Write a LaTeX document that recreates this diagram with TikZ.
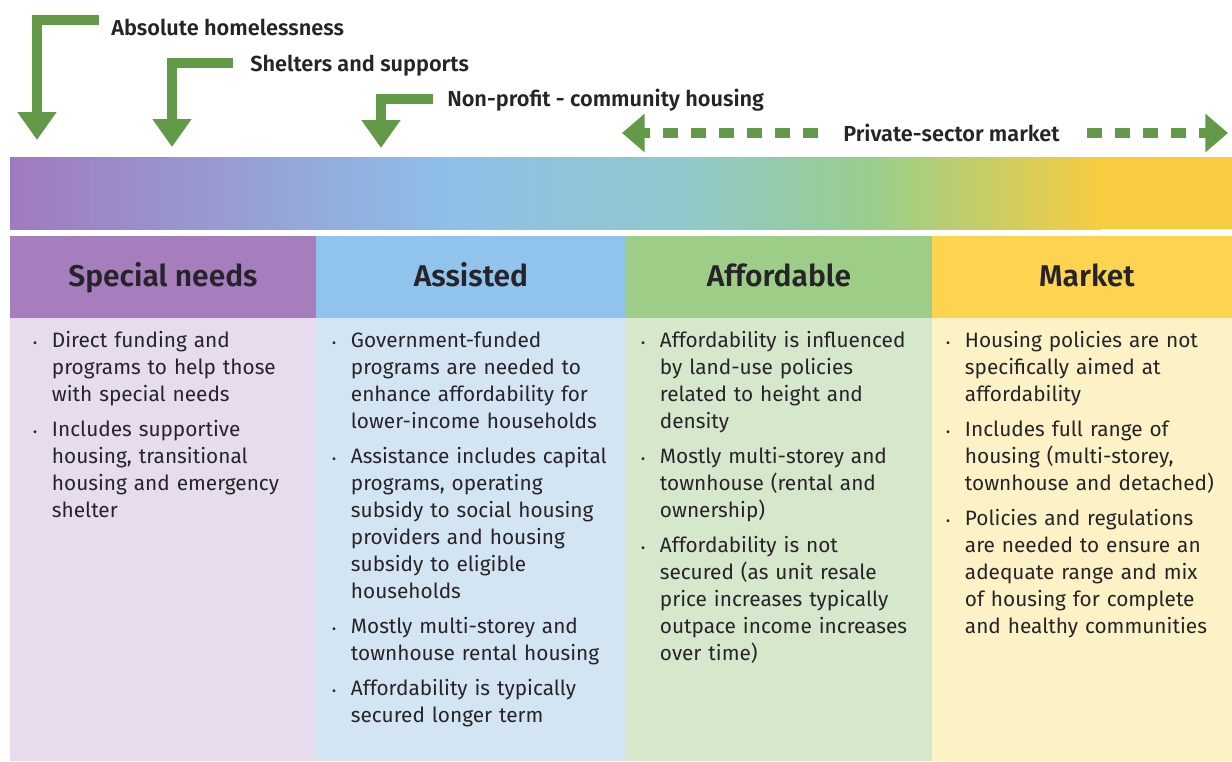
\documentclass[tikz,border=0pt]{standalone}
\usepackage{fontspec}
\setmainfont{Fira Sans}[BoldFont={* SemiBold}]
\usepackage{enumitem}
\usetikzlibrary{arrows.meta,positioning}

\definecolor{arrowgreen}{RGB}{98,154,72}
\definecolor{textgray}{RGB}{38,36,40}
\definecolor{needsHead}{RGB}{166,126,190}
\definecolor{needsBody}{RGB}{231,219,238}
\definecolor{assistHead}{RGB}{145,196,236}
\definecolor{assistBody}{RGB}{211,229,243}
\definecolor{affordHead}{RGB}{158,205,136}
\definecolor{affordBody}{RGB}{214,232,204}
\definecolor{marketHead}{RGB}{253,212,79}
\definecolor{marketBody}{RGB}{253,242,198}
\definecolor{barPurple}{RGB}{160,122,190}
\definecolor{barLilac}{RGB}{150,160,212}
\definecolor{barBlue}{RGB}{142,192,232}
\definecolor{barTeal}{RGB}{145,200,205}
\definecolor{barGreen}{RGB}{152,206,140}
\definecolor{barYellow}{RGB}{247,204,64}

\setlist[itemize]{label={\scalebox{0.6}{\textbullet}},leftmargin=14pt,labelsep=11pt,
  itemsep=6pt,parsep=0pt,topsep=0pt,partopsep=0pt}

\tikzset{
  stepLabel/.style={font=\bfseries\fontsize{16.3}{18}\selectfont,text=textgray,inner sep=0pt,anchor=base west},
  elbowArrow/.style={draw=arrowgreen,line width=7.5pt,line join=miter,-{Triangle[length=21pt,width=28pt]}},
  marketArrow/.style={draw=arrowgreen,line width=8pt,dash pattern=on 11.25pt off 9.75pt,-{Triangle[length=17pt,width=28pt]}},
  colHead/.style={font=\bfseries\fontsize{22.5}{26}\selectfont,text=textgray,inner sep=0pt,anchor=base},
  colText/.style={text width=220pt,inner sep=0pt,anchor=north west,align=left,
    font=\fontsize{15.6}{20.25}\selectfont,text=textgray},
}

\begin{document}
\begin{tikzpicture}[x=0.75pt,y=-0.75pt]
\useasboundingbox (0,0) rectangle (1232,761);

% top labels and arrows
\node[stepLabel] (homeless) at (111,35) {Absolute homelessness};
\coordinate (homelessStart) at (99,20);
\coordinate (homelessTip) at (37,140);
\draw[elbowArrow] (homelessStart) -| (homelessTip);

\node[stepLabel] (shelters) at (250,71) {Shelters and supports};
\coordinate (sheltersStart) at (233,63);
\coordinate (sheltersTip) at (172,147);
\draw[elbowArrow] (sheltersStart) -| (sheltersTip);

\node[stepLabel] (nonprofit) at (447,106) {Non-profit - community housing};
\coordinate (nonprofitStart) at (433,99);
\coordinate (nonprofitTip) at (381,148);
\draw[elbowArrow] (nonprofitStart) -| (nonprofitTip);

\node[stepLabel] (private) at (843,141) {Private-sector market};
\coordinate (privateL) at (818,133);
\coordinate (privateLTip) at (622,133);
\coordinate (privateR) at (1087,133);
\coordinate (privateRTip) at (1228,133);
\draw[marketArrow] (privateL) -- (privateLTip);
\draw[marketArrow] (privateR) -- (privateRTip);

% continuum bar
\shade[left color=barPurple,right color=barLilac] (10,157) rectangle (251,229);
\shade[left color=barLilac,right color=barBlue] (250,157) rectangle (451,229);
\shade[left color=barBlue,right color=barTeal] (450,157) rectangle (681,229);
\shade[left color=barTeal,right color=barGreen] (680,157) rectangle (871,229);
\shade[left color=barGreen,right color=barYellow] (870,157) rectangle (1101,229);
\fill[barYellow] (1100,157) rectangle (1232,229);

% columns
\fill[needsHead] (10,236) rectangle (316,318);
\fill[needsBody] (10,318) rectangle (316,761);
\fill[assistHead] (316,236) rectangle (625,318);
\fill[assistBody] (316,318) rectangle (625,761);
\fill[affordHead] (625,236) rectangle (932,318);
\fill[affordBody] (625,318) rectangle (932,761);
\fill[marketHead] (932,236) rectangle (1232,318);
\fill[marketBody] (932,318) rectangle (1232,761);

\node[colHead] (needs) at (163,286) {Special needs};
\node[colHead] (assist) at (471,286) {Assisted};
\node[colHead] (afford) at (779,286) {Affordable};
\node[colHead] (market) at (1087,286) {Market};

\node[colText] (needsText) at (33,320) {\begin{itemize}
\item Direct funding and\\ programs to help those\\ with special needs
\item Includes supportive\\ housing, transitional\\ housing and emergency\\ shelter
\end{itemize}};

\node[colText] (assistText) at (332,320) {\begin{itemize}
\item Government-funded\\ programs are needed to\\ enhance affordability for\\ lower-income households
\item Assistance includes capital\\ programs, operating\\ subsidy to social housing\\ providers and housing\\ subsidy to eligible\\ households
\item Mostly multi-storey and\\ townhouse rental housing
\item Affordability is typically\\ secured longer term
\end{itemize}};

\node[colText] (affordText) at (641,320) {\begin{itemize}
\item Affordability is influenced\\ by land-use policies\\ related to height and\\ density
\item Mostly multi-storey and\\ townhouse (rental and\\ ownership)
\item Affordability is not\\ secured (as unit resale\\ price increases typically\\ outpace income increases\\ over time)
\end{itemize}};

\node[colText] (marketText) at (946,320) {\begin{itemize}
\item Housing policies are not\\ specifically aimed at\\ affordability
\item Includes full range of\\ housing (multi-storey,\\ townhouse and detached)
\item Policies and regulations\\ are needed to ensure an\\ adequate range and mix\\ of housing for complete\\ and healthy communities
\end{itemize}};
\end{tikzpicture}
\end{document}
